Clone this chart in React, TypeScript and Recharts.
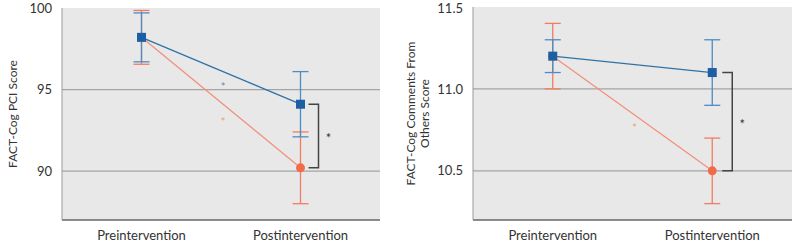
import React from "react";
import {
  ComposedChart,
  Line,
  XAxis,
  YAxis,
  CartesianGrid,
  ErrorBar,
  ReferenceDot,
  ReferenceLine,
} from "recharts";

// shared x categories (placed at i + 0.5 on a 0..2 numeric axis)
const categories = ["Preintervention", "Postintervention"];

// FACT-Cog PCI score
const pciA = [98.2, 94.1];
const pciAErr = [1.5, 2.0];
const pciB = [98.2, 90.2];
const pciBErr = [1.65, 2.2];
const pciTicks = [90, 95, 100];

// FACT-Cog comments from others score
const cmtA = [11.2, 11.1];
const cmtAErr = [0.1, 0.2];
const cmtB = [11.2, 10.5];
const cmtBErr = [0.2, 0.2];
const cmtTicks = [10.5, 11.0, 11.5];

const BLUE = "#1d5fa3";
const BLUE_LINE = "#2f72a8";
const BLUE_ERR = "#4a8cc6";
const ORANGE = "#f26a48";
const ORANGE_LINE = "#f3907c";
const ORANGE_ERR = "#f27c62";
const FONT = "Lato, 'Open Sans', sans-serif";

const buildRows = (a: number[], aErr: number[], b: number[], bErr: number[]) =>
  categories.map((name, i) => ({
    x: i + 0.5,
    name,
    a: a[i],
    aErr: aErr[i],
    b: b[i],
    bErr: bErr[i],
  }));

const SquareDot = (props: any) => {
  const { cx, cy, index } = props;
  if (cx == null || cy == null) return null;
  return <rect key={`sq-${index}`} x={cx - 4.5} y={cy - 4.5} width={9} height={9} fill={BLUE} />;
};

const RoundDot = (props: any) => {
  const { cx, cy, index } = props;
  if (cx == null || cy == null) return null;
  return <circle key={`rd-${index}`} cx={cx} cy={cy} r={4.5} fill={ORANGE} />;
};

// small significance mark under the middle of a line
const midStar = (color: string, dy: number) => (props: any) => (
  <text
    x={props.cx + 2}
    y={props.cy + dy}
    fill={color}
    fontSize={11}
    textAnchor="middle"
    fontFamily={FONT}
  >
    *
  </text>
);

// bracket between the two post values, with a star beside it
const bracket = (gap: number) => (props: any) => {
  const { x1, y1, y2 } = props;
  const l = x1 + gap;
  const r = l + 10;
  return (
    <g>
      <path
        d={`M${l},${y1}H${r}V${y2}H${l}`}
        fill="none"
        stroke="#444"
        strokeWidth={1.5}
      />
      <text
        x={r + 10}
        y={(y1 + y2) / 2 + 7}
        fontSize={13}
        fill="#333"
        textAnchor="middle"
        fontFamily={FONT}
      >
        *
      </text>
    </g>
  );
};

type PanelProps = {
  a: number[];
  aErr: number[];
  b: number[];
  bErr: number[];
  ticks: number[];
  domain: [number, number];
  title: string[];
  leftWidth: number;
  rightMargin: number;
  top: number;
  digits: number;
  starA: boolean;
  starDyA: number;
  starDyB: number;
  bracketGap: number;
};

function Panel(p: PanelProps) {
  const rows = buildRows(p.a, p.aErr, p.b, p.bErr);
  const mid = (v: number[]) => (v[0] + v[1]) / 2;
  const tick = { fontSize: 13, fill: "#333", fontFamily: FONT };

  const YTitle = (lp: any) => {
    const vb = lp.viewBox;
    const cy = vb.y + vb.height / 2;
    const n = p.title.length;
    return (
      <g>
        {p.title.map((t, i) => {
          const x = n === 1 ? 12 : 10 + i * 14;
          return (
            <text
              key={t}
              x={x}
              y={cy}
              transform={`rotate(-90 ${x} ${cy})`}
              textAnchor="middle"
              dominantBaseline="central"
              fontSize={12}
              fill="#333"
              fontFamily={FONT}
            >
              {t}
            </text>
          );
        })}
      </g>
    );
  };

  return (
    <ComposedChart
      width={400}
      height={244}
      data={rows}
      margin={{ top: p.top, right: p.rightMargin, bottom: 0, left: 0 }}
    >
      <CartesianGrid
        vertical={false}
        horizontalValues={p.ticks.slice(0, -1)}
        fill="#e8e8e8"
        stroke="#a4a4a4"
        strokeWidth={1.2}
      />
      <XAxis
        dataKey="x"
        type="number"
        domain={[0, 2]}
        ticks={[0.5, 1.5]}
        tickFormatter={(v: number) => categories[Math.floor(v)]}
        tickLine={false}
        axisLine={{ stroke: "#666", strokeWidth: 1.5 }}
        tick={tick}
        height={24}
        tickMargin={5}
      />
      <YAxis
        type="number"
        domain={p.domain}
        ticks={p.ticks}
        allowDataOverflow
        tickLine={false}
        axisLine={{ stroke: "#9a9a9a" }}
        tick={tick}
        tickMargin={4}
        width={p.leftWidth}
        tickFormatter={(v: number) => v.toFixed(p.digits)}
        label={{ content: YTitle }}
      />
      <Line
        dataKey="b"
        stroke={ORANGE_LINE}
        strokeWidth={1.3}
        dot={<RoundDot />}
        activeDot={false}
        isAnimationActive={false}
      >
        <ErrorBar dataKey="bErr" width={8} stroke={ORANGE_ERR} strokeWidth={1.3} direction="y" />
      </Line>
      <Line
        dataKey="a"
        stroke={BLUE_LINE}
        strokeWidth={1.3}
        dot={<SquareDot />}
        activeDot={false}
        isAnimationActive={false}
      >
        <ErrorBar dataKey="aErr" width={8} stroke={BLUE_ERR} strokeWidth={1.3} direction="y" />
      </Line>
      {p.starA && (
        <ReferenceDot x={1} y={mid(p.a)} r={0} shape={midStar("#6a86a8", p.starDyA)} />
      )}
      <ReferenceDot x={1} y={mid(p.b)} r={0} shape={midStar("#f0a07a", p.starDyB)} />
      <ReferenceLine
        segment={[
          { x: 1.5, y: p.a[1] },
          { x: 1.5, y: p.b[1] },
        ]}
        shape={bracket(p.bracketGap)}
      />
    </ComposedChart>
  );
}

export default function App() {
  return (
    <div
      style={{
        position: "absolute",
        left: 0,
        top: 0,
        width: 800,
        height: 244,
        display: "flex",
        background: "#fff",
      }}
    >
      <Panel
        a={pciA}
        aErr={pciAErr}
        b={pciB}
        bErr={pciBErr}
        ticks={pciTicks}
        domain={[87, 100]}
        title={["FACT-Cog PCI Score"]}
        leftWidth={62}
        rightMargin={20}
        top={8}
        digits={0}
        starA={true}
        starDyA={20}
        starDyB={23}
        bracketGap={8}
      />
      <Panel
        a={cmtA}
        aErr={cmtAErr}
        b={cmtB}
        bErr={cmtBErr}
        ticks={cmtTicks}
        domain={[10.2, 11.5]}
        title={["FACT-Cog Comments From", "Others Score"]}
        leftWidth={73}
        rightMargin={8}
        top={7}
        digits={1}
        starA={false}
        starDyA={0}
        starDyB={18}
        bracketGap={10}
      />
    </div>
  );
}
